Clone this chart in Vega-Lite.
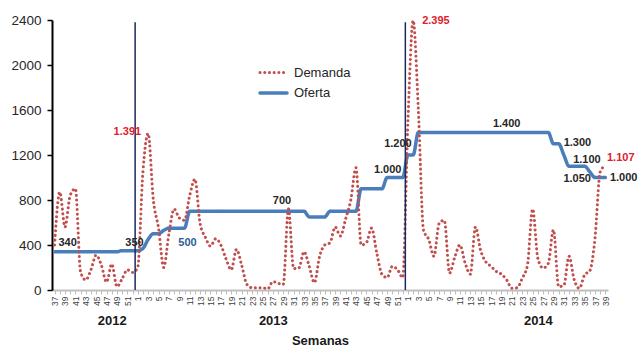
{
"$schema":"https://vega.github.io/schema/vega-lite/v6.json",
"width":556,"height":270,
"autosize":{"type":"none"},
"padding":{"left":52,"top":20,"right":30,"bottom":56},
"background":"white",
"config":{"view":{"stroke":null},"font":"Liberation Sans","locale":{"number":{"decimal":",","thousands":".","grouping":[3],"currency":["","$"]}}},
"data":{"values":[
{"s":"2012-37","Demanda":400,"Oferta":340},{"s":"2012-38","Demanda":870,"Oferta":340},{"s":"2012-39","Demanda":560,"Oferta":340},{"s":"2012-40","Demanda":840,"Oferta":340},{"s":"2012-41","Demanda":900,"Oferta":340},{"s":"2012-42","Demanda":160,"Oferta":340},{"s":"2012-43","Demanda":90,"Oferta":340},{"s":"2012-44","Demanda":180,"Oferta":340},{"s":"2012-45","Demanda":310,"Oferta":340},{"s":"2012-46","Demanda":220,"Oferta":340},{"s":"2012-47","Demanda":70,"Oferta":340},{"s":"2012-48","Demanda":230,"Oferta":340},{"s":"2012-49","Demanda":30,"Oferta":340},{"s":"2012-50","Demanda":100,"Oferta":350},{"s":"2012-51","Demanda":180,"Oferta":350},{"s":"2012-52","Demanda":155,"Oferta":350},
{"s":"2013-1","Demanda":200,"Oferta":350},{"s":"2013-2","Demanda":1050,"Oferta":370},{"s":"2013-3","Demanda":1391,"Oferta":450},{"s":"2013-4","Demanda":800,"Oferta":500},{"s":"2013-5","Demanda":550,"Oferta":500},{"s":"2013-6","Demanda":200,"Oferta":530},{"s":"2013-7","Demanda":500,"Oferta":550},{"s":"2013-8","Demanda":720,"Oferta":550},{"s":"2013-9","Demanda":640,"Oferta":550},{"s":"2013-10","Demanda":620,"Oferta":550},{"s":"2013-11","Demanda":840,"Oferta":700},{"s":"2013-12","Demanda":985,"Oferta":700},{"s":"2013-13","Demanda":590,"Oferta":700},{"s":"2013-14","Demanda":470,"Oferta":700},{"s":"2013-15","Demanda":390,"Oferta":700},{"s":"2013-16","Demanda":455,"Oferta":700},{"s":"2013-17","Demanda":400,"Oferta":700},{"s":"2013-18","Demanda":275,"Oferta":700},{"s":"2013-19","Demanda":180,"Oferta":700},{"s":"2013-20","Demanda":360,"Oferta":700},{"s":"2013-21","Demanda":220,"Oferta":700},{"s":"2013-22","Demanda":50,"Oferta":700},{"s":"2013-23","Demanda":20,"Oferta":700},{"s":"2013-24","Demanda":20,"Oferta":700},{"s":"2013-25","Demanda":20,"Oferta":700},{"s":"2013-26","Demanda":10,"Oferta":700},{"s":"2013-27","Demanda":75,"Oferta":700},{"s":"2013-28","Demanda":60,"Oferta":700},{"s":"2013-29","Demanda":50,"Oferta":700},{"s":"2013-30","Demanda":720,"Oferta":700},{"s":"2013-31","Demanda":190,"Oferta":700},{"s":"2013-32","Demanda":195,"Oferta":700},{"s":"2013-33","Demanda":340,"Oferta":700},{"s":"2013-34","Demanda":210,"Oferta":650},{"s":"2013-35","Demanda":65,"Oferta":650},{"s":"2013-36","Demanda":300,"Oferta":650},{"s":"2013-37","Demanda":400,"Oferta":650},{"s":"2013-38","Demanda":420,"Oferta":700},{"s":"2013-39","Demanda":560,"Oferta":700},{"s":"2013-40","Demanda":480,"Oferta":700},{"s":"2013-41","Demanda":630,"Oferta":700},{"s":"2013-42","Demanda":800,"Oferta":700},{"s":"2013-43","Demanda":1087,"Oferta":700},{"s":"2013-44","Demanda":400,"Oferta":900},{"s":"2013-45","Demanda":420,"Oferta":900},{"s":"2013-46","Demanda":550,"Oferta":900},{"s":"2013-47","Demanda":330,"Oferta":900},{"s":"2013-48","Demanda":140,"Oferta":900},{"s":"2013-49","Demanda":110,"Oferta":1000},{"s":"2013-50","Demanda":210,"Oferta":1000},{"s":"2013-51","Demanda":180,"Oferta":1000},{"s":"2013-52","Demanda":110,"Oferta":1000},
{"s":"2014-1","Demanda":1500,"Oferta":1200},{"s":"2014-2","Demanda":2395,"Oferta":1200},{"s":"2014-3","Demanda":1600,"Oferta":1400},{"s":"2014-4","Demanda":530,"Oferta":1400},{"s":"2014-5","Demanda":450,"Oferta":1400},{"s":"2014-6","Demanda":300,"Oferta":1400},{"s":"2014-7","Demanda":590,"Oferta":1400},{"s":"2014-8","Demanda":620,"Oferta":1400},{"s":"2014-9","Demanda":150,"Oferta":1400},{"s":"2014-10","Demanda":290,"Oferta":1400},{"s":"2014-11","Demanda":400,"Oferta":1400},{"s":"2014-12","Demanda":240,"Oferta":1400},{"s":"2014-13","Demanda":140,"Oferta":1400},{"s":"2014-14","Demanda":560,"Oferta":1400},{"s":"2014-15","Demanda":350,"Oferta":1400},{"s":"2014-16","Demanda":250,"Oferta":1400},{"s":"2014-17","Demanda":210,"Oferta":1400},{"s":"2014-18","Demanda":165,"Oferta":1400},{"s":"2014-19","Demanda":140,"Oferta":1400},{"s":"2014-20","Demanda":90,"Oferta":1400},{"s":"2014-21","Demanda":15,"Oferta":1400},{"s":"2014-22","Demanda":20,"Oferta":1400},{"s":"2014-23","Demanda":105,"Oferta":1400},{"s":"2014-24","Demanda":220,"Oferta":1400},{"s":"2014-25","Demanda":720,"Oferta":1400},{"s":"2014-26","Demanda":280,"Oferta":1400},{"s":"2014-27","Demanda":195,"Oferta":1400},{"s":"2014-28","Demanda":235,"Oferta":1400},{"s":"2014-29","Demanda":535,"Oferta":1300},{"s":"2014-30","Demanda":30,"Oferta":1300},{"s":"2014-31","Demanda":40,"Oferta":1200},{"s":"2014-32","Demanda":300,"Oferta":1100},{"s":"2014-33","Demanda":90,"Oferta":1100},{"s":"2014-34","Demanda":15,"Oferta":1100},{"s":"2014-35","Demanda":135,"Oferta":1100},{"s":"2014-36","Demanda":170,"Oferta":1050},{"s":"2014-37","Demanda":460,"Oferta":1000},{"s":"2014-38","Demanda":1050,"Oferta":1000},{"s":"2014-39","Demanda":1107,"Oferta":1000}
]},
"resolve":{"axis":{"x":"independent"}},
"layer":[
{"transform":[{"fold":["Oferta","Demanda"]}],
 "mark":{"type":"line","interpolate":"monotone","strokeCap":"round","strokeJoin":"round"},
 "encoding":{
  "x":{"field":"s","type":"ordinal","sort":null,"scale":{"type":"point","padding":0.5},
   "axis":{"orient":"bottom","title":null,"labelAngle":270,"labelFontSize":8.5,"labelColor":"#404040","labelExpr":"parseInt(substring(datum.value,5)) % 2 == 1 ? substring(datum.value,5) : ''","labelOverlap":false,"labelPadding":2,"tickSize":4,"tickColor":"#bfbfbf","tickWidth":1,"domainColor":"#bfbfbf","domainWidth":2,"grid":false}},
  "y":{"field":"value","type":"quantitative","scale":{"domain":[0,2400],"nice":false},
   "axis":{"values":[0,400,800,1200,1600,2000,2400],"format":"d","title":null,"labelFontSize":13.5,"labelColor":"#262626","domainColor":"#000000","domainWidth":2,"tickColor":"#000000","tickSize":5,"tickWidth":1.5,"labelPadding":6,"grid":false}},
  "color":{"field":"key","type":"nominal","scale":{"domain":["Demanda","Oferta"],"range":["#c0504d","#4a7ebb"]},
   "legend":{"title":null,"orient":"none","legendX":210.5,"legendY":42,"labelFontSize":13,"labelColor":"#262626","symbolType":"M-1.5,0H1.5","symbolSize":324,"symbolStrokeWidth":3,"symbolFillColor":"transparent","labelOffset":9.5,"rowPadding":2,"encode":{"symbols":{"update":{"strokeCap":{"value":"round"}}}}}},
  "strokeDash":{"field":"key","type":"nominal","scale":{"domain":["Demanda","Oferta"],"range":[[0.1,4.6],[1,0]]},
   "legend":{"title":null,"orient":"none","legendX":210.5,"legendY":42,"labelFontSize":13,"labelColor":"#262626","symbolType":"M-1.5,0H1.5","symbolSize":324,"symbolStrokeWidth":3,"symbolFillColor":"transparent","labelOffset":9.5,"rowPadding":2,"encode":{"symbols":{"update":{"strokeCap":{"value":"round"}}}}}},
  "strokeWidth":{"field":"key","type":"nominal","scale":{"domain":["Demanda","Oferta"],"range":[3,3.5]},"legend":null}
 }},
{"transform":[{"filter":"datum.s=='2013-1'||datum.s=='2014-1'"}],
 "mark":{"type":"rule","color":"#1c2a5e","strokeWidth":1.5,"xOffset":-2.6},
 "encoding":{"x":{"field":"s","type":"ordinal","sort":null,"axis":null},"y":{"datum":0},"y2":{"datum":2380}}},
{"transform":[{"filter":"datum.s=='2012-39'"}],
 "mark":{"type":"text","fontWeight":"bold","fontSize":11,"color":"#262626","dx":2.6,"dy":-8.75,"baseline":"middle","align":"center"},
 "encoding":{"x":{"field":"s","type":"ordinal","sort":null,
   "axis":{"orient":"bottom","domain":false,"ticks":false,"labelAngle":0,"labelExpr":"datum.value=='2012-48'?'2012':datum.value=='2013-27'?'2013':datum.value=='2014-26'?'2014':''","labelFontWeight":"bold","labelFontSize":13,"labelColor":"#1a1a1a","labelPadding":24,"labelOverlap":false,"title":"Semanas","titleFontSize":13,"titleFontWeight":"bold","titleColor":"#1a1a1a","titleX":268,"titleY":54,"titleBaseline":"alphabetic","titleAlign":"center"}},
  "y":{"field":"Oferta","type":"quantitative"},"text":{"field":"Oferta","type":"quantitative","format":",d"}}},
{"transform":[{"filter":"datum.s=='2012-52'"}],
 "mark":{"type":"text","fontWeight":"bold","fontSize":11,"color":"#262626","dx":2,"dy":-8,"baseline":"middle","align":"center"},
 "encoding":{"x":{"field":"s","type":"ordinal","sort":null,"axis":null},"y":{"field":"Oferta","type":"quantitative"},"text":{"field":"Oferta","type":"quantitative","format":",d"}}},
{"transform":[{"filter":"datum.s=='2013-5'"}],
 "mark":{"type":"text","fontWeight":"bold","fontSize":11,"color":"#2e5c9a","dx":29,"dy":9.5,"baseline":"middle","align":"center"},
 "encoding":{"x":{"field":"s","type":"ordinal","sort":null,"axis":null},"y":{"field":"Oferta","type":"quantitative"},"text":{"field":"Oferta","type":"quantitative","format":",d"}}},
{"transform":[{"filter":"datum.s=='2013-29'"}],
 "mark":{"type":"text","fontWeight":"bold","fontSize":11,"color":"#262626","dx":-1.3,"dy":-10,"baseline":"middle","align":"center"},
 "encoding":{"x":{"field":"s","type":"ordinal","sort":null,"axis":null},"y":{"field":"Oferta","type":"quantitative"},"text":{"field":"Oferta","type":"quantitative","format":",d"}}},
{"transform":[{"filter":"datum.s=='2013-49'"}],
 "mark":{"type":"text","fontWeight":"bold","fontSize":11,"color":"#262626","dx":0.5,"dy":-7.5,"baseline":"middle","align":"center"},
 "encoding":{"x":{"field":"s","type":"ordinal","sort":null,"axis":null},"y":{"field":"Oferta","type":"quantitative"},"text":{"field":"Oferta","type":"quantitative","format":",d"}}},
{"transform":[{"filter":"datum.s=='2014-1'"}],
 "mark":{"type":"text","fontWeight":"bold","fontSize":11,"color":"#262626","dx":-10,"dy":-11,"baseline":"middle","align":"center"},
 "encoding":{"x":{"field":"s","type":"ordinal","sort":null,"axis":null},"y":{"field":"Oferta","type":"quantitative"},"text":{"field":"Oferta","type":"quantitative","format":",d"}}},
{"transform":[{"filter":"datum.s=='2014-20'"}],
 "mark":{"type":"text","fontWeight":"bold","fontSize":11,"color":"#262626","dx":0,"dy":-9,"baseline":"middle","align":"center"},
 "encoding":{"x":{"field":"s","type":"ordinal","sort":null,"axis":null},"y":{"field":"Oferta","type":"quantitative"},"text":{"field":"Oferta","type":"quantitative","format":",d"}}},
{"transform":[{"filter":"datum.s=='2014-30'"}],
 "mark":{"type":"text","fontWeight":"bold","fontSize":11,"color":"#262626","dx":5,"dy":-1,"baseline":"middle","align":"left"},
 "encoding":{"x":{"field":"s","type":"ordinal","sort":null,"axis":null},"y":{"field":"Oferta","type":"quantitative"},"text":{"field":"Oferta","type":"quantitative","format":",d"}}},
{"transform":[{"filter":"datum.s=='2014-34'"}],
 "mark":{"type":"text","fontWeight":"bold","fontSize":11,"color":"#262626","dx":7.5,"dy":-6,"baseline":"middle","align":"center"},
 "encoding":{"x":{"field":"s","type":"ordinal","sort":null,"axis":null},"y":{"field":"Oferta","type":"quantitative"},"text":{"field":"Oferta","type":"quantitative","format":",d"}}},
{"transform":[{"filter":"datum.s=='2014-36'"}],
 "mark":{"type":"text","fontWeight":"bold","fontSize":11,"color":"#262626","dx":-12.6,"dy":7,"baseline":"middle","align":"center"},
 "encoding":{"x":{"field":"s","type":"ordinal","sort":null,"axis":null},"y":{"field":"Oferta","type":"quantitative"},"text":{"field":"Oferta","type":"quantitative","format":",d"}}},
{"transform":[{"filter":"datum.s=='2014-39'"}],
 "mark":{"type":"text","fontWeight":"bold","fontSize":11,"color":"#262626","dx":4.5,"dy":0,"baseline":"middle","align":"left"},
 "encoding":{"x":{"field":"s","type":"ordinal","sort":null,"axis":null},"y":{"field":"Oferta","type":"quantitative"},"text":{"field":"Oferta","type":"quantitative","format":",d"}}},
{"transform":[{"filter":"datum.s=='2013-3'"}],
 "mark":{"type":"text","fontWeight":"bold","fontSize":11,"color":"#e0202e","dx":-7,"dy":-2,"baseline":"middle","align":"right"},
 "encoding":{"x":{"field":"s","type":"ordinal","sort":null,"axis":null},"y":{"field":"Demanda","type":"quantitative"},"text":{"field":"Demanda","type":"quantitative","format":",d"}}},
{"transform":[{"filter":"datum.s=='2014-2'"}],
 "mark":{"type":"text","fontWeight":"bold","fontSize":11,"color":"#e0202e","dx":9,"dy":0,"baseline":"middle","align":"left"},
 "encoding":{"x":{"field":"s","type":"ordinal","sort":null,"axis":null},"y":{"field":"Demanda","type":"quantitative"},"text":{"field":"Demanda","type":"quantitative","format":",d"}}},
{"transform":[{"filter":"datum.s=='2014-39'"}],
 "mark":{"type":"text","fontWeight":"bold","fontSize":11,"color":"#e0202e","dx":1.6,"dy":-7,"baseline":"middle","align":"left"},
 "encoding":{"x":{"field":"s","type":"ordinal","sort":null,"axis":null},"y":{"field":"Demanda","type":"quantitative"},"text":{"field":"Demanda","type":"quantitative","format":",d"}}}
]
}
